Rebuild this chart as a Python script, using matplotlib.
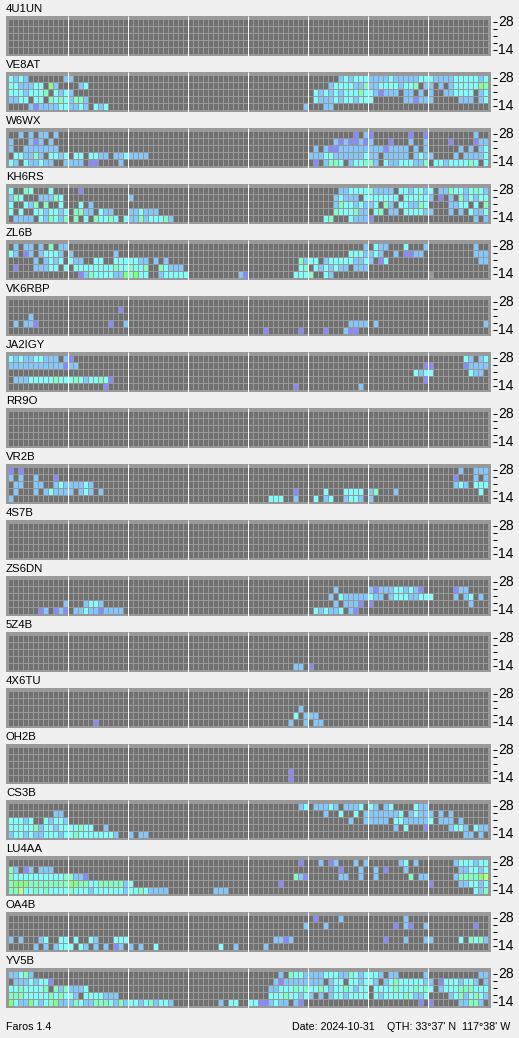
import matplotlib
matplotlib.use('Agg')
import matplotlib.pyplot as plt
import numpy as np
from matplotlib.colors import ListedColormap
from matplotlib.transforms import ScaledTranslation

# signal levels: 1 purple .. 6 yellow, 7 = grey cell
# every row is a list of (first column, levels), rows go from 28 down to 14
U4U1UN = [[], [], [], [], []]
VE8AT = [
    [(0, "3232"), (11, "22"), (66, "232333"), (72, "222232222233322223333323")],
    [(0, "3322233"), (8, "52"), (14, "23"), (64, "23333224"), (72, "2233332334"), (83, "22"), (86, "2"), (88, "233333"), (94, "54")],
    [(0, "33323334"), (9, "3232"), (61, "323232333433"), (73, "21222"), (79, "22"), (82, "2"), (84, "2"), (87, "223333"), (94, "23")],
    [(0, "2233"), (5, "33"), (8, "43432442"), (61, "322232332333"), (79, "22"), (81, "12"), (83, "22"), (90, "222"), (94, "23")],
    [(4, "212222332232"), (17, "323"), (59, "2"), (63, "22")],
]
W6WX = [
    [(2, "2"), (4, "2"), (6, "22"), (9, "2"), (69, "1"), (71, "21"), (80, "1"), (83, "1"), (93, "2")],
    [(0, "2"), (4, "212"), (8, "2"), (65, "212112"), (71, "12"), (76, "1"), (80, "2"), (83, "2"), (88, "1"), (93, "122")],
    [(0, "2"), (3, "2222222"), (61, "2"), (63, "211"), (66, "222222222"), (75, "12222"), (81, "2"), (83, "2"), (90, "2"), (92, "2"), (94, "23")],
    [(1, "332242"), (8, "3323"), (13, "33"), (16, "3322"), (21, "2232222"), (60, "2223322222232"), (73, "2"), (75, "22222"), (81, "2322"), (89, "2"), (91, "22223")],
    [(0, "32"), (3, "322322"), (11, "2222"), (16, "11"), (22, "2"), (61, "1"), (63, "2443"), (68, "233442"), (75, "322333224"), (85, "33233334"), (93, "3"), (95, "3")],
]
KH6RS = [
    [(0, "3"), (3, "43"), (8, "3"), (14, "1"), (66, "2233334"), (73, "2222"), (78, "3323323"), (86, "22"), (88, "43323432")],
    [(0, "243"), (6, "22243"), (24, "2"), (65, "23222"), (71, "3333333"), (79, "333332"), (86, "1"), (88, "2"), (90, "423233")],
    [(0, "3"), (3, "324"), (7, "4"), (10, "3"), (14, "3"), (16, "2"), (65, "24332322"), (73, "3"), (75, "42"), (78, "332243"), (88, "22"), (90, "33"), (93, "3"), (95, "4")],
    [(0, "3"), (2, "3"), (5, "332332"), (11, "3"), (13, "4422"), (18, "322"), (24, "223222"), (65, "4333422"), (73, "34"), (76, "22"), (79, "333322"), (88, "2"), (90, "2"), (92, "3223")],
    [(1, "2222"), (6, "324324"), (13, "4"), (15, "3"), (17, "43343"), (23, "3224233342"), (63, "34"), (68, "3222"), (72, "1"), (93, "2"), (95, "2")],
]
ZL6B = [
    [(1, "2"), (3, "22"), (6, "2"), (8, "4"), (10, "22"), (71, "2"), (73, "322"), (79, "3"), (83, "2"), (93, "2")],
    [(0, "32"), (3, "12"), (6, "23332"), (12, "2"), (21, "2"), (68, "3332232"), (77, "2"), (79, "1122"), (93, "222")],
    [(5, "2"), (7, "2323"), (12, "322"), (17, "33"), (21, "3333322"), (29, "2"), (31, "2"), (58, "4233"), (63, "233333223"), (72, "2"), (74, "13"), (94, "22")],
    [(1, "1"), (5, "22233"), (11, "3"), (13, "333333334334334"), (30, "43222"), (58, "34"), (61, "3232322"), (69, "222")],
    [(14, "12433332254533"), (30, "233333"), (46, "21"), (57, "3334"), (63, "32"), (84, "7")],
]
VK6RBP = [
    [], [(22, "1")], [(4, "2")],
    [(1, "2"), (3, "221"), (20, "1"), (23, "2"), (68, "2222"), (73, "2"), (95, "2")],
    [(51, "1"), (58, "1"), (63, "1"), (67, "211")],
]
JA2IGY = [
    [(0, "3232233222"), (11, "21"), (91, "32"), (94, "23")],
    [(0, "22222222222122"), (83, "11"), (91, "12222")],
    [(81, "3233"), (92, "322")],
    [(1, "22233333433343233431"), (83, "1")],
    [(19, "1"), (57, "1"), (70, "2")],
]
RR9O = [[], [], [], [], []]
VR2B = [
    [(0, "1"), (2, "1"), (90, "2"), (93, "222")],
    [(0, "2"), (2, "2"), (5, "2"), (9, "1"), (89, "1"), (93, "2"), (95, "2")],
    [(1, "22"), (5, "22"), (9, "23222232"), (89, "232"), (93, "333")],
    [(1, "2"), (5, "2"), (7, "232222"), (14, "232"), (18, "2"), (57, "1"), (63, "3"), (67, "3333"), (72, "24"), (77, "2"), (94, "3")],
    [(0, "2"), (52, "333"), (57, "2"), (61, "3"), (63, "23"), (67, "2332"), (72, "2")],
]
S4S7B = [[], [], [], [], []]
ZS6DN = [
    [],
    [(65, "2"), (72, "21222332321"), (89, "122")],
    [(64, "2"), (66, "322222322"), (76, "233322333"), (89, "2"), (91, "23"), (94, "2")],
    [(11, "2"), (15, "2332"), (65, "2"), (67, "2221"), (72, "1"), (92, "2")],
    [(6, "12"), (9, "121"), (13, "2232212222"), (61, "323223"), (68, "21")],
]
Z5Z4B = [[], [], [], [], [(57, "22"), (60, "1")]]
X4X6TU = [
    [], [], [(58, "2")],
    [(57, "3"), (59, "222")],
    [(17, "1"), (56, "2"), (59, "2"), (61, "22")],
]
OH2B = [[], [], [], [(56, "1")], [(56, "1")]]
CS3B = [
    [(58, "23"), (61, "22232"), (67, "2223"), (72, "32"), (75, "23"), (81, "322")],
    [(9, "22"), (63, "2"), (66, "3"), (69, "3"), (71, "22222223"), (80, "23222"), (86, "2"), (88, "2")],
    [(0, "33323"), (7, "32332"), (68, "2"), (71, "22222"), (77, "33222223"), (86, "222"), (90, "2")],
    [(0, "33333423323333433"), (19, "2"), (77, "2"), (79, "3"), (83, "1"), (88, "2332"), (93, "322")],
    [(0, "2332322333233433333332"), (24, "2"), (26, "22"), (91, "22"), (94, "2")],
]
LU4AA = [
    [(58, "1"), (62, "2"), (64, "12"), (69, "2"), (71, "2"), (78, "23"), (81, "2"), (89, "2333233")],
    [(0, "42"), (3, "12"), (6, "222"), (66, "1"), (70, "2"), (73, "2"), (75, "1"), (79, "2"), (90, "223323")],
    [(0, "4333333333344221"), (57, "421"), (66, "22"), (70, "2"), (73, "2"), (80, "4"), (82, "22"), (89, "2444456")],
    [(0, "4555444444445544"), (16, "33444442"), (24, "3"), (54, "1"), (84, "1"), (90, "223323")],
    [(0, "4463343433334"), (13, "3332333333233"), (26, "432222"), (41, "222"), (93, "324")],
]
OA4B = [
    [(61, "1"), (66, "2"), (79, "2")],
    [(59, "2"), (63, "2"), (77, "1"), (79, "21"), (83, "2"), (93, "1")],
    [],
    [(0, "2"), (2, "2"), (6, "23"), (10, "33"), (13, "3"), (16, "32"), (21, "333"), (53, "2212"), (75, "1"), (79, "2"), (83, "22"), (90, "3"), (92, "4342")],
    [(5, "2"), (7, "2"), (9, "2333"), (14, "32"), (17, "2"), (19, "2"), (21, "12"), (24, "2"), (26, "2"), (29, "3"), (42, "3"), (45, "2"), (51, "2")],
]
YV5B = [
    [(0, "22342"), (54, "2"), (56, "43322223332"), (67, "243"), (70, "2333"), (74, "2"), (76, "22"), (83, "2"), (94, "22")],
    [(1, "22232331"), (53, "2122222222"), (64, "233"), (68, "33233"), (73, "2"), (75, "2343333322"), (86, "1"), (87, "3332332"), (95, "2")],
    [(0, "33433334"), (9, "4242223"), (52, "22333434334"), (63, "323343233"), (73, "333343334343"), (86, "2333444333")],
    [(0, "44433333434332"), (15, "3333222"), (52, "333433232"), (62, "2"), (64, "23323333"), (73, "32333343223"), (88, "23423432")],
    [(0, "532253234522"), (12, "2432244432"), (22, "4233234"), (29, "2332"), (42, "2"), (44, "33"), (48, "33"), (50, "112322"), (57, "21"), (82, "1"), (84, "1"), (90, "22442")],
]

stations = ["4U1UN", "VE8AT", "W6WX", "KH6RS", "ZL6B", "VK6RBP", "JA2IGY", "RR9O", "VR2B",
            "4S7B", "ZS6DN", "5Z4B", "4X6TU", "OH2B", "CS3B", "LU4AA", "OA4B", "YV5B"]
rows = [U4U1UN, VE8AT, W6WX, KH6RS, ZL6B, VK6RBP, JA2IGY, RR9O, VR2B,
        S4S7B, ZS6DN, Z5Z4B, X4X6TU, OH2B, CS3B, LU4AA, OA4B, YV5B]
band_labels = ["28", "", "", "", "14"]
level_colors = ["#707070", "#8888ff", "#80c8ff", "#80ffff", "#80ffc0", "#80ff80", "#c0ff80", "#999999"]

plt.rcParams['font.family'] = ['Liberation Sans', 'DejaVu Sans']
W, H = 519, 1038
cmap = ListedColormap(level_colors)

fig = plt.figure(figsize=(W / 100, H / 100), dpi=100, facecolor='#f0f0f0')


def to_grid(station_rows):
    grid = np.zeros((5, 96), dtype=int)
    for r, runs in enumerate(station_rows):
        for start, levels in runs:
            for i, ch in enumerate(levels):
                grid[r, start + i] = int(ch)
    return grid


up = ScaledTranslation(0, 1.5 / 100, fig.dpi_scale_trans)
# limits are a bit off the half pixel so that the 1 px lines snap onto the gaps
x0, x1 = -2.2 / 5, 482.8 / 5
y0, y1 = 37.2 / 7, -2.8 / 7
for n, (name, data) in enumerate(zip(stations, rows)):
    top = 16 + 56 * n
    ax = fig.add_axes([6 / W, 1 - (top + 40) / H, 485 / W, 40 / H], facecolor='#999999')
    ax.pcolormesh(np.arange(97), np.arange(6), to_grid(data), cmap=cmap, vmin=-0.5, vmax=7.5, antialiased=False)
    ax.set_xlim(x0, x1)
    ax.set_ylim(y0, y1)
    # 1 px gaps between the cells, white line every 3 hours
    ax.vlines(np.arange(97), 0, 5, color='#999999', linewidth=0.72)
    ax.hlines(np.arange(6), 0, 96, color='#999999', linewidth=0.72)
    ax.vlines(np.arange(12, 96, 12), y1, y0, color='white', linewidth=0.72)
    ax.set_xticks([])
    ax.yaxis.tick_right()
    ax.set_yticks(np.arange(5) + 0.5, band_labels, fontsize=8)
    ax.tick_params(axis='y', length=3, width=0.72, pad=0.5)
    for side in ax.spines:
        ax.spines[side].set_visible(False)
    ax.spines['right'].set_position(('outward', 1.44))
    for label in ax.get_yticklabels():
        label.set_transform(label.get_transform() + up)
    ax.set_title(name, loc='left', fontsize=8.2, pad=3)

fig.text(6.5 / W, 1 - 1030 / H, "Faros 1.4", fontsize=7.7)
fig.text(292 / W, 1 - 1030 / H, "Date: 2024-10-31", fontsize=7.7)
fig.text(387 / W, 1 - 1030 / H, "QTH: 33°37' N  117°38' W", fontsize=7.7)

fig.savefig('out.png', dpi=100, facecolor=fig.get_facecolor())
